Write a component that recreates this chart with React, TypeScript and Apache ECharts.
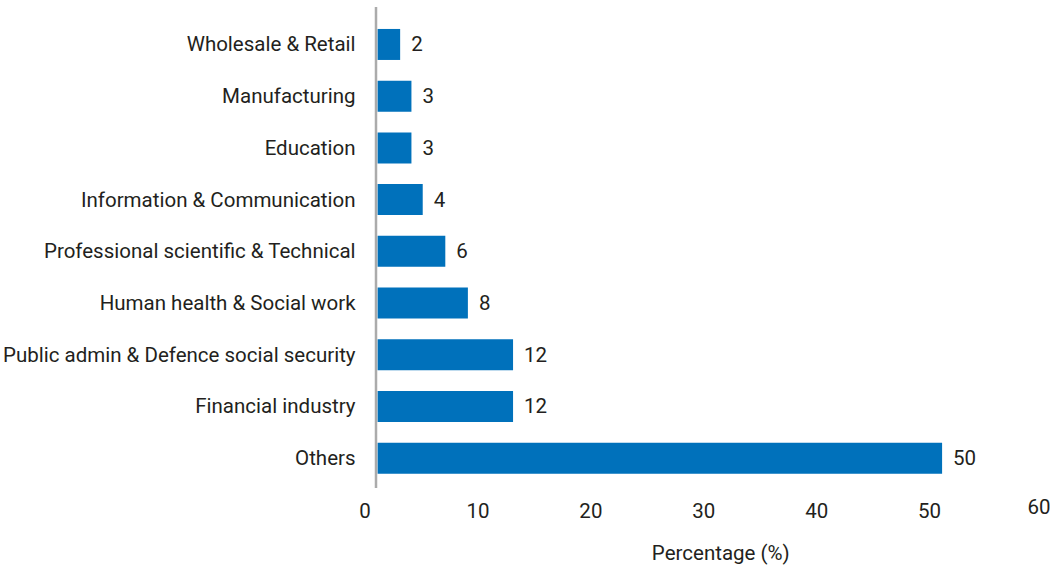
import React, { useEffect, useRef } from "react";
import * as echarts from "echarts";

// Sectors, listed top to bottom
const sectors: string[] = [
  "Wholesale & Retail",
  "Manufacturing",
  "Education",
  "Information & Communication",
  "Professional scientific & Technical",
  "Human health & Social work",
  "Public admin & Defence social security",
  "Financial industry",
  "Others",
];

// Share of each sector (%)
const shares: number[] = [2, 3, 3, 4, 6, 8, 12, 12, 50];

// Percentage axis
const axisMin = 0;
const axisMax = 60;
const axisStep = 10;

const FONT = "Roboto, 'Open Sans', sans-serif";
const SIZE = 20.5;
const TEXT = "#231f20";
const BLUE = "#0071bb";

export default function App() {
  const ref = useRef<HTMLDivElement>(null);

  useEffect(() => {
    if (!ref.current) return;
    const chart = echarts.init(ref.current, undefined, { renderer: "svg" });
    chart.setOption({
      animation: false,
      backgroundColor: "#ffffff",
      textStyle: { fontFamily: FONT },
      grid: { left: 377, top: 18.6, width: 682, height: 466.3, containLabel: false },
      xAxis: {
        type: "value",
        min: axisMin,
        max: axisMax,
        interval: axisStep,
        axisLine: { show: false },
        axisTick: { show: false },
        splitLine: { show: false },
        axisLabel: {
          margin: 12,
          formatter: (v: number) => (v === axisMax ? `{hi|${v}}` : `{n|${v}}`),
          rich: {
            n: { fontSize: SIZE, color: TEXT, fontFamily: FONT, padding: [4, 25, 0, 0] },
            hi: { fontSize: SIZE, color: TEXT, fontFamily: FONT, padding: [0, 32, 0, 0] },
          },
        },
        name: "Percentage (%)",
        nameLocation: "middle",
        nameGap: 58,
        nameTextStyle: { fontSize: SIZE, color: TEXT, fontFamily: FONT, padding: [0, 0, 0, 9] },
      },
      yAxis: {
        type: "category",
        data: sectors,
        inverse: true,
        axisLine: { show: false },
        axisTick: { show: false },
        splitLine: { show: false },
        axisLabel: { margin: 22, fontSize: SIZE, color: TEXT, fontFamily: FONT },
      },
      series: [
        {
          type: "bar",
          data: shares,
          barWidth: 31,
          itemStyle: { color: BLUE },
          label: {
            show: true,
            position: "right",
            distance: 11,
            fontSize: SIZE,
            color: TEXT,
            fontFamily: FONT,
          },
        },
      ],
      graphic: [
        {
          type: "line",
          shape: { x1: 376, y1: 7, x2: 376, y2: 488 },
          style: { stroke: "#ababab", lineWidth: 2.5 },
          z: 10,
        },
      ],
    });
    return () => chart.dispose();
  }, []);

  return (
    <div
      ref={ref}
      style={{ position: "absolute", left: 0, top: 0, width: 1055, height: 568 }}
    />
  );
}
